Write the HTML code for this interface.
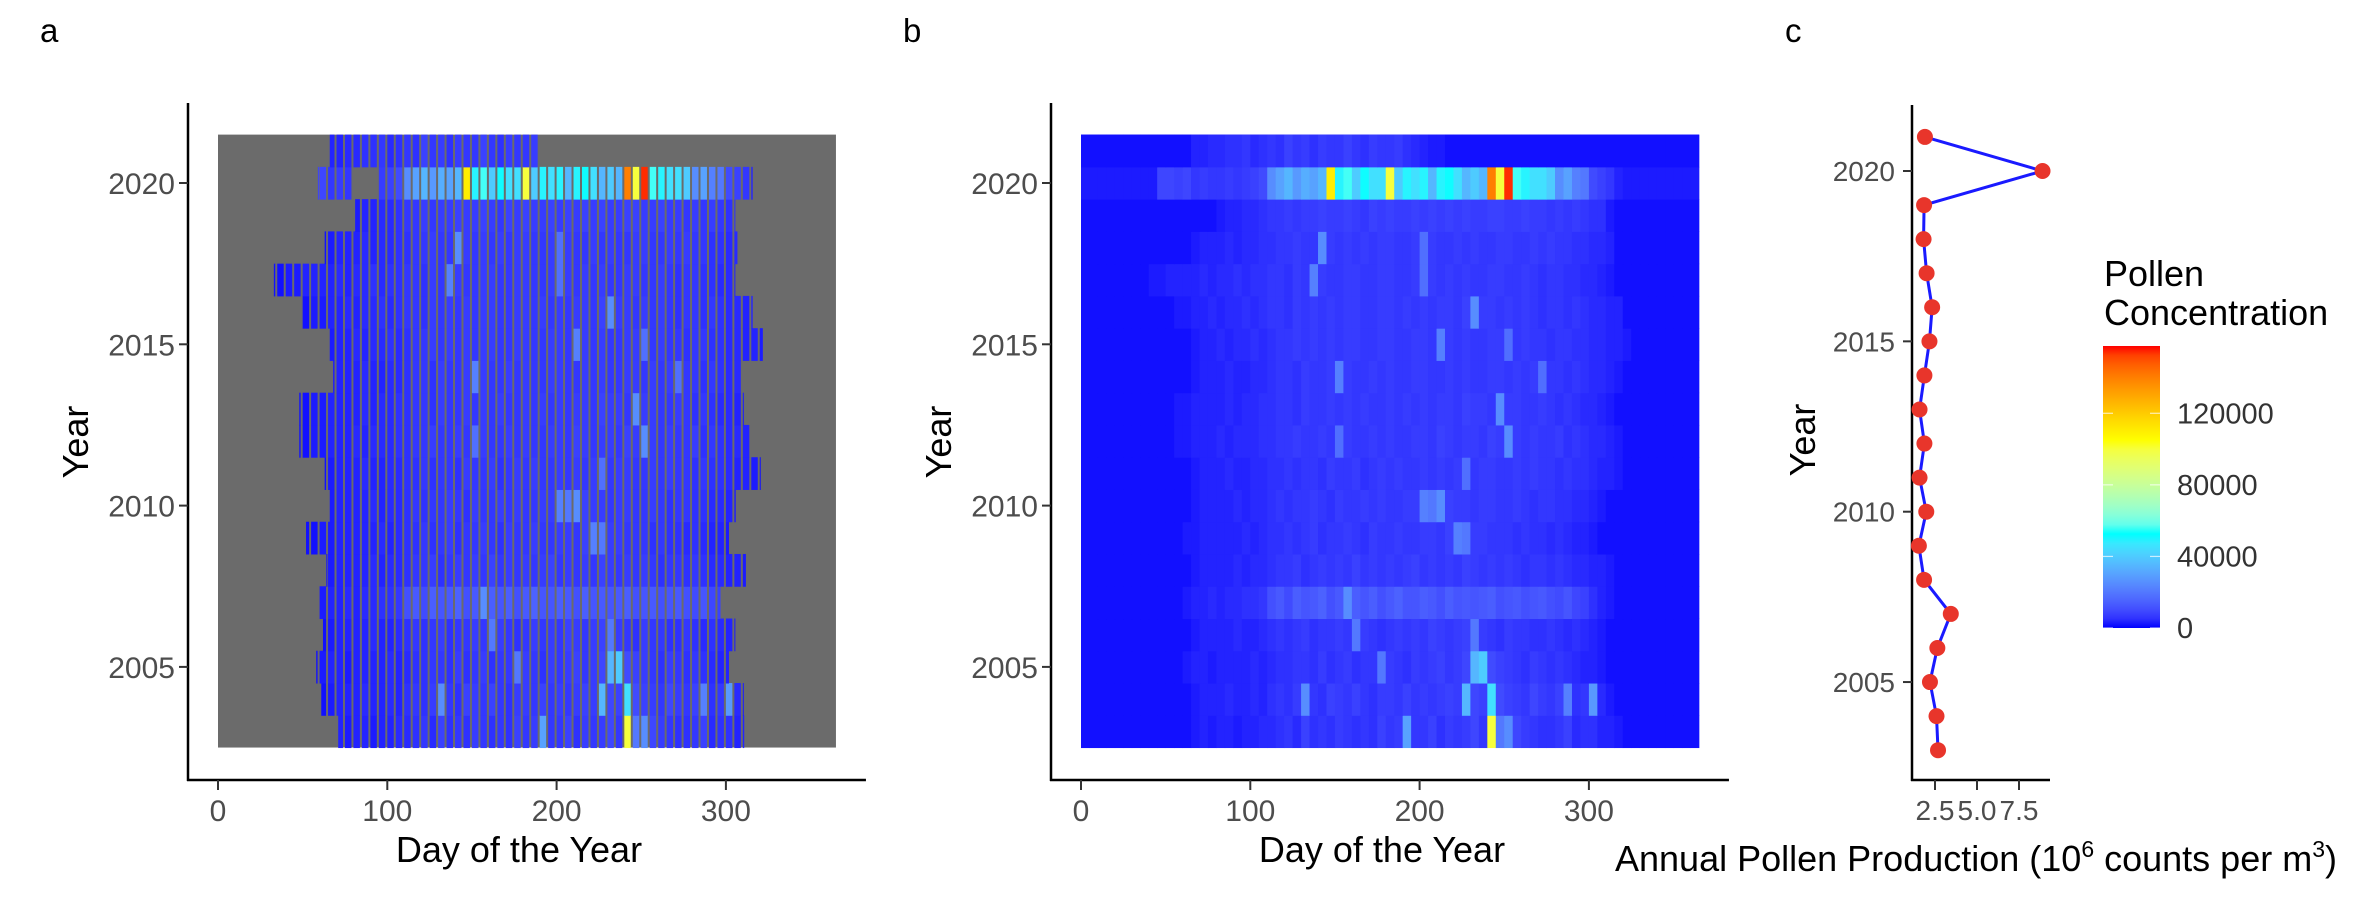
<!DOCTYPE html>
<html><head><meta charset="utf-8"><style>
html,body{margin:0;padding:0;background:#fff;}
svg{display:block;font-family:"Liberation Sans",Arial,sans-serif;}
.tk{font-size:30px;fill:#4d4d4d;}
.tkc{font-size:28px;fill:#4d4d4d;}
.tt{font-size:36px;fill:#000;}
.lt{font-size:33px;fill:#000;}
.lg{font-size:29px;fill:#333;}
</style></head><body>
<svg id="fig" width="2378" height="902" viewBox="0 0 2378 902">
<defs>
<linearGradient id="cbar" x1="0" y1="1" x2="0" y2="0"></linearGradient>
</defs>
<text x="40" y="42" class="lt">a</text>
<text x="903" y="42" class="lt">b</text>
<text x="1785" y="42" class="lt">c</text>
<g id="pa"></g>
<g id="pb"></g>
<g id="pc"></g>
<g id="leg">
<text x="2104" y="286" class="tt">Pollen</text>
<text x="2104" y="325" class="tt">Concentration</text>
<rect x="2103" y="346" width="57" height="282" fill="url(#cbar)"/>
</g>
</svg>
<script>
const years=[2003,2004,2005,2006,2007,2008,2009,2010,2011,2012,2013,2014,2015,2016,2017,2018,2019,2020,2021];
const seasonStart=[71,61,58,62,60,64,52,66,63,48,48,68,66,50,33,63,81,59,66];
const seasonEnd=[311,310,302,305,297,312,302,306,320,314,310,309,322,316,305,307,305,316,189];
const gap2020=[78,97];
const binDays=5;
const conc={
2003:[1,1,1,1,1,1,1,1,1,1,1,1,1,2,3,2,3,3,2,3,3,4,4,5,6,4,8,5,6,5,7,6,5,6,5,8,6,7,30,6,6,8,5,7,6,7,9,6,100,20,25,9,7,6,5,5,6,8,4,5,5,3,3,2,1,1,1,1,1,1,1,1,1],
2004:[1,1,1,1,1,1,1,1,1,1,1,1,1,2,3,3,3,4,3,3,4,3,5,6,5,7,25,6,5,8,7,6,8,6,5,7,7,6,8,6,7,6,7,8,7,35,9,8,45,10,8,7,6,9,7,6,8,22,5,6,28,4,2,1,1,1,1,1,1,1,1,1,1],
2005:[1,1,1,1,1,1,1,1,1,1,1,1,2,3,3,2,3,3,3,3,4,3,4,5,5,6,6,5,7,5,6,7,5,6,6,20,7,6,5,7,6,7,8,6,7,9,35,40,10,8,7,6,5,7,6,5,6,5,4,3,3,2,1,1,1,1,1,1,1,1,1,1,1],
2006:[1,1,1,1,1,1,1,1,1,1,1,1,1,2,3,3,3,3,4,3,3,4,5,6,5,6,7,5,6,6,7,6,20,7,6,5,6,7,6,7,6,8,7,6,7,8,20,7,6,5,7,6,6,5,5,6,5,4,5,4,3,2,1,1,1,1,1,1,1,1,1,1,1],
2007:[1,1,1,1,1,1,1,1,1,1,1,1,2,3,3,4,3,4,4,5,5,6,11,13,10,14,12,13,15,11,13,25,14,12,14,11,13,15,12,12,14,13,11,14,12,13,12,13,14,11,12,13,11,12,13,11,10,12,9,8,5,3,2,1,1,1,1,1,1,1,1,1,1],
2008:[1,1,1,1,1,1,1,1,1,1,1,1,1,2,3,3,3,3,4,3,4,4,5,6,6,7,5,6,7,6,7,6,8,6,7,6,7,6,7,8,6,7,6,7,6,8,7,6,7,6,7,6,5,6,6,5,6,5,4,4,3,3,2,1,1,1,1,1,1,1,1,1,1],
2009:[1,1,1,1,1,1,1,1,1,1,1,1,2,2,3,3,3,3,3,4,3,4,5,5,6,5,6,7,5,6,6,7,6,5,7,6,6,7,6,6,7,7,6,8,22,20,7,7,6,6,6,5,6,5,5,4,5,4,3,3,2,1,1,1,1,1,1,1,1,1,1,1,1],
2010:[1,1,1,1,1,1,1,1,1,1,1,1,1,2,3,3,3,3,4,3,4,4,5,6,5,6,6,7,6,5,7,6,6,7,6,7,6,6,7,7,22,20,25,8,7,7,6,7,7,6,6,7,6,5,6,6,5,5,4,4,3,2,1,1,1,1,1,1,1,1,1,1,1],
2011:[1,1,1,1,1,1,1,1,1,1,1,1,1,2,3,3,3,4,3,3,4,4,5,5,6,5,6,6,5,7,6,6,7,5,6,7,6,7,6,6,7,6,7,6,7,18,6,7,7,6,6,7,6,7,6,6,5,6,5,5,4,3,3,2,1,1,1,1,1,1,1,1,1],
2012:[1,1,1,1,1,1,1,1,1,1,1,2,2,3,3,3,4,3,4,4,4,5,5,6,6,7,6,6,7,6,18,7,6,6,7,6,7,6,6,7,7,6,8,7,6,7,7,6,8,7,25,7,6,7,6,6,7,5,6,5,4,4,3,2,1,1,1,1,1,1,1,1,1],
2013:[1,1,1,1,1,1,1,1,1,1,1,2,2,3,3,3,3,4,3,4,4,5,5,6,6,5,7,6,6,7,6,7,6,7,6,6,7,6,7,6,7,6,7,7,6,8,7,7,6,25,7,7,6,6,7,6,5,6,5,4,4,3,2,1,1,1,1,1,1,1,1,1,1],
2014:[1,1,1,1,1,1,1,1,1,1,1,1,1,2,3,3,3,4,3,3,4,4,5,6,6,5,7,6,6,7,22,7,6,6,7,6,7,6,6,7,7,6,6,7,6,7,6,6,7,7,6,7,6,7,18,6,6,5,6,5,4,4,3,2,1,1,1,1,1,1,1,1,1],
2015:[1,1,1,1,1,1,1,1,1,1,1,1,1,2,3,3,4,3,4,4,5,4,5,6,6,7,6,7,6,7,6,7,7,6,6,7,7,6,6,7,7,6,22,7,6,7,6,6,7,7,18,6,7,6,6,5,6,6,5,5,4,4,3,3,2,1,1,1,1,1,1,1,1],
2016:[1,1,1,1,1,1,1,1,1,1,1,2,2,3,3,4,3,4,4,5,4,5,6,6,5,7,6,7,6,7,6,7,7,6,6,7,7,6,7,6,7,6,7,7,6,8,25,7,7,6,7,6,7,6,5,6,6,5,6,5,4,4,3,3,1,1,1,1,1,1,1,1,1],
2017:[1,1,1,1,1,1,1,1,2,2,3,3,3,3,4,3,4,4,5,4,5,5,6,6,5,7,6,22,7,6,6,7,7,6,6,7,7,6,6,7,18,7,6,7,6,7,6,6,7,7,6,6,7,6,5,6,6,5,5,4,4,3,2,1,1,1,1,1,1,1,1,1,1],
2018:[1,1,1,1,1,1,1,1,1,1,1,1,1,2,3,3,3,4,3,4,4,5,5,6,6,7,6,6,25,7,6,7,6,7,6,7,7,6,6,7,18,7,6,6,7,6,7,6,6,7,7,6,6,7,6,7,6,6,5,5,4,4,3,1,1,1,1,1,1,1,1,1,1],
2019:[1,1,1,1,1,1,1,1,1,1,1,1,1,1,1,1,2,3,3,4,4,5,6,6,7,6,7,7,8,7,7,8,7,6,8,7,8,7,7,8,7,8,7,8,7,8,7,7,8,8,7,7,8,7,7,6,7,6,7,6,5,5,2,1,1,1,1,1,1,1,1,1,1],
2020:[2,2,2,2,2,2,2,2,2,9,9,8,9,6,7,6,6,7,6,7,8,10,25,30,35,28,33,30,35,110,50,55,40,52,45,45,100,40,50,45,50,35,50,52,45,35,40,35,140,100,155,55,50,45,45,40,25,30,22,20,10,8,6,3,2,2,2,2,2,2,2,2,2],
2021:[1,1,1,1,1,1,1,1,1,1,1,1,1,3,3,4,4,5,5,6,4,5,6,5,8,6,7,5,7,6,6,8,6,5,7,6,6,7,5,4,3,2,2,1,1,1,1,1,1,1,1,1,1,1,1,1,1,1,1,1,1,1,1,1,1,1,1,1,1,1,1,1,1]
};
const xTicks=[0,100,200,300];
const yTicks=[2005,2010,2015,2020];
const prodYears=[2003,2004,2005,2006,2007,2008,2009,2010,2011,2012,2013,2014,2015,2016,2017,2018,2019,2020,2021];
const prodValues=[2.68,2.59,2.2,2.64,3.44,1.85,1.54,1.98,1.58,1.87,1.58,1.87,2.17,2.33,2.0,1.82,1.85,8.9,1.9];
const prodTicks=[2.5,5.0,7.5];
const legendTicks=[0,40000,80000,120000];
const legendMax=157600;

const NS='http://www.w3.org/2000/svg';
function mk(tag,attrs,parent,text){const e=document.createElementNS(NS,tag);for(const k in attrs)e.setAttribute(k,attrs[k]);if(text!==undefined)e.textContent=text;parent.appendChild(e);return e;}
function s2l(c){c/=255;return c<=0.04045?c/12.92:Math.pow((c+0.055)/1.055,2.4);}
function l2s(c){c=c<=0.0031308?12.92*c:1.055*Math.pow(c,1/2.4)-0.055;return Math.round(Math.max(0,Math.min(1,c))*255);}
function toLab(rgb){const r=s2l(rgb[0]),g=s2l(rgb[1]),b=s2l(rgb[2]);
 let X=(0.4124*r+0.3576*g+0.1805*b)/0.95047,Y=0.2126*r+0.7152*g+0.0722*b,Z=(0.0193*r+0.1192*g+0.9505*b)/1.08883;
 const f=t=>t>0.008856?Math.cbrt(t):7.787*t+16/116;const fx=f(X),fy=f(Y),fz=f(Z);
 return [116*fy-16,500*(fx-fy),200*(fy-fz)];}
function fromLab(l){const fy=(l[0]+16)/116,fx=fy+l[1]/500,fz=fy-l[2]/200;
 const fi=t=>t*t*t>0.008856?t*t*t:(t-16/116)/7.787;const X=fi(fx)*0.95047,Y=fi(fy),Z=fi(fz)*1.08883;
 const r=3.2406*X-1.5372*Y-0.4986*Z,g=-0.9689*X+1.8758*Y+0.0415*Z,b=0.0557*X-0.2040*Y+1.0570*Z;
 return 'rgb('+l2s(r)+','+l2s(g)+','+l2s(b)+')';}
const stopsLab=[[0,0,255],[0,255,255],[255,255,0],[255,0,0]].map(toLab);
function colT(t){t=Math.max(0,Math.min(1,t));const s=t*3;const i=Math.min(2,Math.floor(s));const f=s-i;
 const a=stopsLab[i],b=stopsLab[i+1];return fromLab([a[0]+(b[0]-a[0])*f,a[1]+(b[1]-a[1])*f,a[2]+(b[2]-a[2])*f]);}
function col(vk){return colT(vk*1000/legendMax);}
(function(){const gr=document.querySelector('#cbar');for(let i=0;i<=30;i++){mk('stop',{offset:i/30,'stop-color':colT(i/30)},gr);}})();

function heatPanel(g,x0,gray){
 const dayPx=1.693, yrPx=32.26, y2020=183;
 const xs=d=>x0+d*dayPx, ys=y=>y2020-(y-2020)*yrPx;
 const bg=mk('rect',{x:xs(0),y:ys(2021.5),width:xs(365)-xs(0),height:ys(2002.5)-ys(2021.5),fill:gray?'#6b6b6b':'#0000ff'},g);
 
 
 years.forEach((yr,yi)=>{
  const vals=conc[yr];
  vals.forEach((v,bi)=>{
   let d0=bi*binDays,d1=Math.min(365,d0+binDays);
   if(gray){d0=Math.max(d0,seasonStart[yi]);d1=Math.min(d1,seasonEnd[yi]+1);if(d1<=d0)return;
     if(yr===2020&&d0>=gap2020[0]&&d1<=gap2020[1]+1)return;}
   const w=xs(d1)-xs(d0);
   const r=mk('rect',{x:xs(d0),y:ys(yr+0.5),width:gray?Math.max(1,w-2):w+0.4,height:yrPx+0.5,fill:col(v)},g);
   
   
  });
 });
 const ax=x0-30;
 mk('line',{x1:ax,y1:103,x2:ax,y2:781,stroke:'#000','stroke-width':2.5},g);
 mk('line',{x1:ax-1,y1:780,x2:xs(365)+30,y2:780,stroke:'#000','stroke-width':2.5},g);
 xTicks.forEach(t=>{mk('line',{x1:xs(t),y1:780,x2:xs(t),y2:790,stroke:'#333','stroke-width':2},g);
  const tx=mk('text',{x:xs(t),y:821,class:'tk','text-anchor':'middle'},g,String(t));
  
  });
 yTicks.forEach(t=>{mk('line',{x1:ax-9,y1:ys(t),x2:ax,y2:ys(t),stroke:'#333','stroke-width':2},g);
  const tx=mk('text',{x:ax-13,y:ys(t)+11,class:'tk','text-anchor':'end'},g,String(t));
  
  });
 const xt=mk('text',{x:(xs(0)+xs(365))/2-8,y:862,class:'tt','text-anchor':'middle'},g,'Day of the Year');
 
 
 const yt=mk('text',{x:0,y:0,class:'tt','text-anchor':'middle',transform:'translate('+(ax-100)+',442) rotate(-90)'},g,'Year');
 
 
}
heatPanel(document.getElementById('pa'),218,true);
heatPanel(document.getElementById('pb'),1081,false);

(function(){
 const g=document.getElementById('pc');
 const xs=v=>1935+(v-2.5)*16.8, ys=y=>171-(y-2020)*34.07;
 mk('line',{x1:1912,y1:105,x2:1912,y2:781,stroke:'#000','stroke-width':2.5},g);
 mk('line',{x1:1911,y1:780,x2:2050,y2:780,stroke:'#000','stroke-width':2.5},g);
 prodTicks.forEach(t=>{mk('line',{x1:xs(t),y1:780,x2:xs(t),y2:790,stroke:'#333','stroke-width':2},g);
  const tx=mk('text',{x:xs(t),y:820,class:'tkc','text-anchor':'middle'},g,t.toFixed(1));
  
  });
 yTicks.forEach(t=>{mk('line',{x1:1903,y1:ys(t),x2:1912,y2:ys(t),stroke:'#333','stroke-width':2},g);
  const tx=mk('text',{x:1895,y:ys(t)+10,class:'tkc','text-anchor':'end'},g,String(t));
  
  });
 const pts=prodYears.map((y,i)=>xs(prodValues[i])+','+ys(y)).join(' ');
 const pl=mk('polyline',{points:pts,fill:'none',stroke:'#1a1aff','stroke-width':3},g);
 
 
 prodYears.forEach((y,i)=>{const c=mk('circle',{cx:xs(prodValues[i]),cy:ys(y),r:8,fill:'#e8352b'},g);
  
  });
 const yt=mk('text',{x:0,y:0,class:'tt','text-anchor':'middle',transform:'translate(1815,440) rotate(-90)'},g,'Year');
 
 
 const xt=mk('text',{x:1615,y:871,class:'tt'},g);
 
 
 xt.innerHTML='Annual Pollen Production (10<tspan dy="-14" font-size="23">6</tspan><tspan dy="14"> counts per m</tspan><tspan dy="-14" font-size="23">3</tspan><tspan dy="14">)</tspan>';
})();
(function(){
 const g=document.getElementById('leg');
 const ys=v=>628-v/legendMax*282;
 legendTicks.forEach(t=>{
  mk('line',{x1:2103,y1:ys(t),x2:2113,y2:ys(t),stroke:'#fff','stroke-width':1.2,opacity:0.7},g);
  mk('line',{x1:2150,y1:ys(t),x2:2160,y2:ys(t),stroke:'#fff','stroke-width':1.2,opacity:0.7},g);
  const tx=mk('text',{x:2177,y:ys(t)+10,class:'lg'},g,String(t));
  
  
 });
})();
</script>
</body></html>
